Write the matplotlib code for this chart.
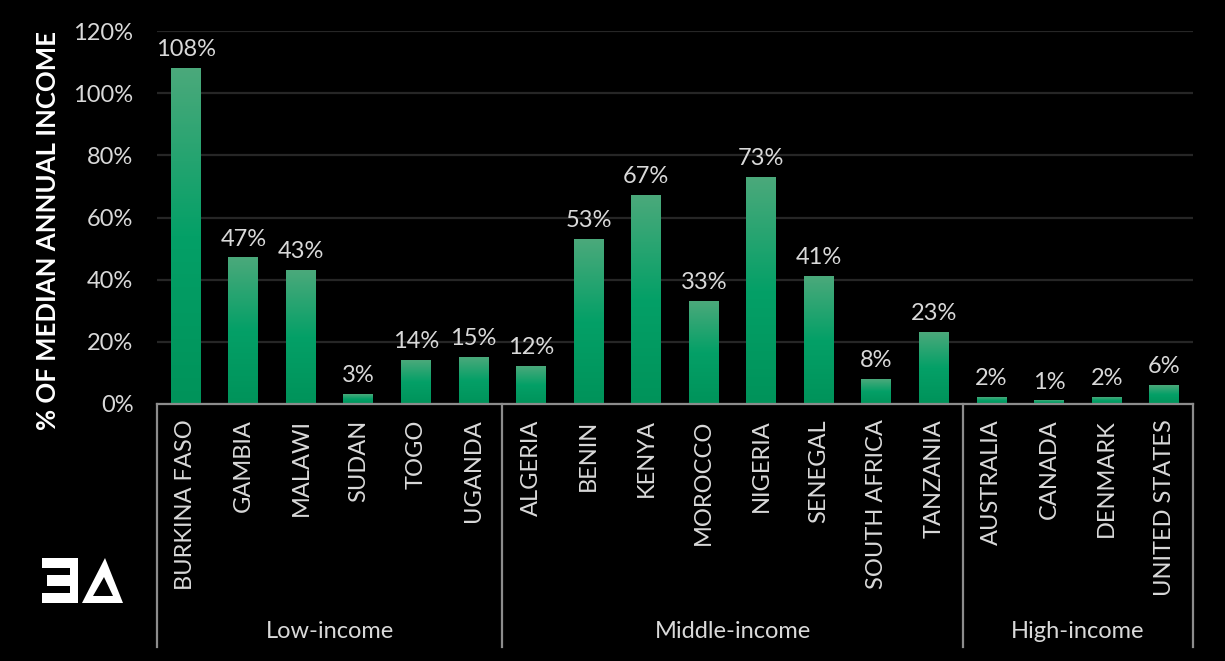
#!/usr/bin/env python3
import matplotlib
import matplotlib.pyplot as plt
import numpy as np
from matplotlib.colors import LinearSegmentedColormap
from matplotlib.patches import Polygon

matplotlib.use("Agg")

# Cost as a share of median annual income, grouped by income level
groups = ["Low-income", "Middle-income", "High-income"]
group_countries = [
    ["BURKINA FASO", "GAMBIA", "MALAWI", "SUDAN", "TOGO", "UGANDA"],
    ["ALGERIA", "BENIN", "KENYA", "MOROCCO", "NIGERIA", "SENEGAL",
     "SOUTH AFRICA", "TANZANIA"],
    ["AUSTRALIA", "CANADA", "DENMARK", "UNITED STATES"],
]
group_values = [
    [108, 47, 43, 3, 14, 15],
    [12, 53, 67, 33, 73, 41, 8, 23],
    [2, 1, 2, 6],
]
y_ticks = [0, 20, 40, 60, 80, 100, 120]

countries = [c for g in group_countries for c in g]
values = [v for g in group_values for v in g]

plt.rcParams["font.family"] = ["Lato", "DejaVu Sans"]
label_color = "#d9d9d9"
line_color = "#8c8c8c"
fs = 17

fig = plt.figure(figsize=(12.25, 6.61), dpi=100, facecolor="black")
ax = fig.add_axes([157 / 1225, 1 - 404 / 661, 1036 / 1225, 373 / 661])
ax.set_facecolor("black")

# vertical gradient for each bar, light at the top and deep green at the base
green = LinearSegmentedColormap.from_list(
    "bar_green", [(0.0, "#00935a"), (0.5, "#04a067"), (1.0, "#4ba97b")]
)
grad = np.linspace(0, 1, 256).reshape(-1, 1)
width = 0.52
x = np.arange(len(values))
for xi, v in zip(x, values):
    ax.imshow(
        grad,
        cmap=green,
        origin="lower",
        aspect="auto",
        extent=(xi - width / 2, xi + width / 2, 0, v),
        zorder=3,
    )
    ax.annotate(
        f"{v}%",
        (xi, v),
        xytext=(0, 6),
        textcoords="offset points",
        ha="center",
        va="bottom",
        fontsize=fs,
        color=label_color,
        zorder=4,
    )

ax.set_xlim(-0.5, len(values) - 0.5)
ax.set_ylim(0, 120)
ax.set_yticks(y_ticks)
ax.set_yticklabels([f"{t}%" for t in y_ticks])
ax.set_xticks(x)
ax.set_xticklabels(countries, rotation=90)
ax.tick_params(axis="y", length=0, pad=17, labelsize=fs, labelcolor=label_color)
ax.tick_params(axis="x", length=0, pad=11, labelsize=fs, labelcolor=label_color)

ax.grid(axis="y", color="#262626", linewidth=1.6, zorder=0)
ax.set_axisbelow(True)
for side in ["top", "right", "left"]:
    ax.spines[side].set_visible(False)
ax.spines["bottom"].set_color(line_color)
ax.spines["bottom"].set_linewidth(1.6)
ax.spines["bottom"].set_zorder(5)

# group separators and group names under the country labels
trans = ax.get_xaxis_transform()
sizes = [len(g) for g in group_countries]
edges = np.concatenate([[0], np.cumsum(sizes)]) - 0.5
for e in edges:
    ax.plot([e, e], [0, -0.651], transform=trans, color=line_color,
            linewidth=1.6, clip_on=False)
for name, lo, hi in zip(groups, edges[:-1], edges[1:]):
    ax.text((lo + hi) / 2, -0.611, name, transform=trans, ha="center",
            va="center", fontsize=fs, color=label_color)

fig.text(48 / 1225, 1 - 230 / 661, "% OF MEDIAN ANNUAL INCOME", rotation=90,
         ha="center", va="center", fontsize=18.5, fontweight="bold",
         color="white")

# logo in the lower left corner (pixel coordinates, y measured from the top)
px = fig.transFigure.inverted()


def logo_shape(pts, color="white"):
    xy = [px.transform((x_, 661 - y_)) for x_, y_ in pts]
    fig.patches.append(Polygon(xy, transform=fig.transFigure,
                               facecolor=color, edgecolor="none"))


for y0, y1, xl in [(558, 568, 42), (575, 586, 47), (593, 603, 42)]:
    logo_shape([(xl, y0), (78, y0), (78, y1), (xl, y1)])
logo_shape([(70, 558), (78, 558), (78, 603), (70, 603)])
logo_shape([(82, 603), (105, 558), (123, 603)])
logo_shape([(93, 596), (104, 577), (113, 596)], color="black")

plt.savefig("out.png", dpi=100, facecolor="black")
plt.close()
